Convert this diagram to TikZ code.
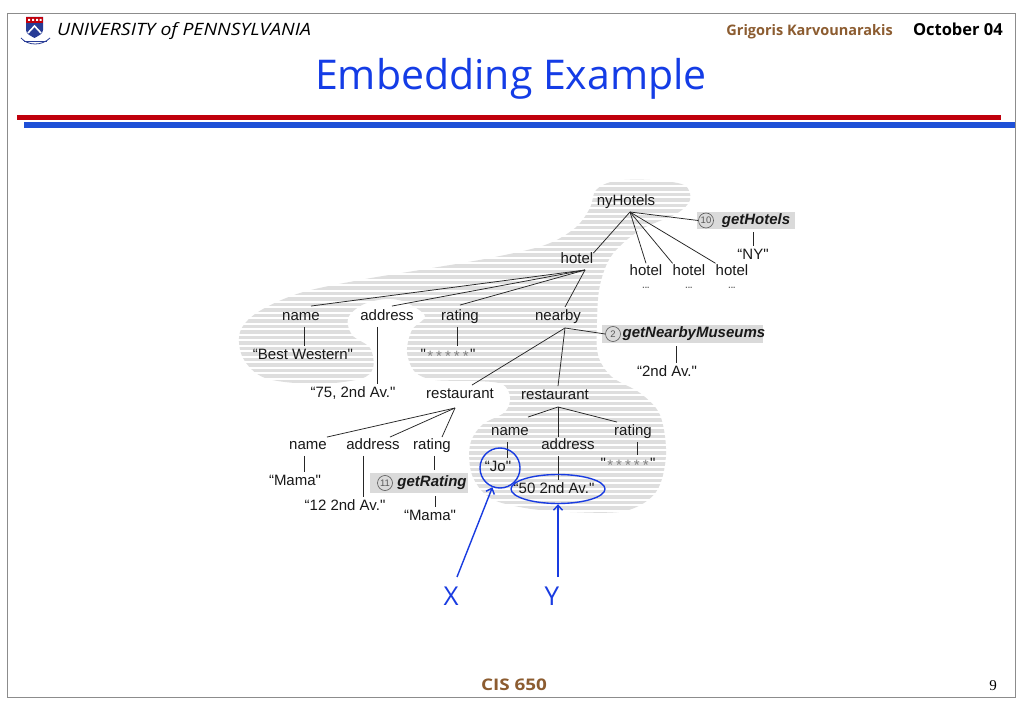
\documentclass[tikz,border=0pt]{standalone}
\usepackage{fontspec}
\setmainfont{Liberation Sans}[Ligatures=TeXOff]
\newfontfamily\comic{Open Sans}
\newfontfamily\serifnum{Liberation Serif}
\usetikzlibrary{arrows.meta,shapes.geometric}
\definecolor{pennblue}{RGB}{25,60,225}
\definecolor{titleblue}{RGB}{20,60,230}
\definecolor{linered}{RGB}{192,0,12}
\definecolor{lineblue}{RGB}{30,80,215}
\definecolor{brownish}{RGB}{140,92,48}
\definecolor{stripegray}{RGB}{222,222,222}
\definecolor{boxgray}{RGB}{218,218,218}
\definecolor{shieldblue}{RGB}{40,60,150}
\newcommand\lblfont{\fontsize{15}{16}\selectfont}
\newcommand\fnfont{\fontsize{15}{16}\selectfont\bfseries\itshape}
\newcommand\lowstar{\raisebox{-1.3pt}{*}}
\newcommand\starrow{"\kern1.5pt{\color{black!50}\lowstar\kern3pt\lowstar\kern3pt\lowstar\kern3pt\lowstar\kern3pt\lowstar}\kern1.5pt"}
\begin{document}
\begin{tikzpicture}[x=1pt,y=-1pt,
  lbl/.style={font=\lblfont, inner sep=0pt, text height=10.5pt, text depth=3pt, text=black!90},
  hlbl/.style={font=\lblfont, inner sep=0pt, text height=10.5pt, text depth=0.5pt, text=black!90},
  fn/.style={font=\fnfont, inner sep=0pt, text height=10.5pt, text depth=3pt, text=black!90},
  dots/.style={font=\fontsize{8.5}{8.5}\selectfont\bfseries, inner sep=0pt, anchor=base, text=black!60},
  edge/.style={draw=black!85, line width=0.75pt},
  vedge/.style={edge, shorten <=3pt, shorten >=3pt},
  num/.style={circle, draw=black!65, line width=0.6pt, minimum size=15pt, inner sep=0pt, font=\fontsize{9.5}{10}\selectfont, text=black!65},
  fnbox/.style={fill=boxgray, inner sep=0pt},
  stripe/.style={draw=stripegray, line width=3.3pt},
  bluemark/.style={draw=pennblue, line width=1.4pt},
  bluearrow/.style={draw=pennblue, line width=1.4pt, -{Straight Barb[length=5pt,width=9pt]}},
  xylabel/.style={font=\comic\fontsize{26}{26}\selectfont, text=pennblue, inner sep=0pt},
  stars/.style={lbl}
]
\useasboundingbox (0,0) rectangle (1023,708);
\fill[white] (0,0) rectangle (1023,708);
% frame
\draw[draw=black!45, line width=1pt] (7.5,14) rectangle (1015.5,697.5);
% logo
\fill[shieldblue] (26,17) -- (43,17) -- (43,30) .. controls (43,34) and (38,36) .. (34.5,38) .. controls (31,36) and (26,34) .. (26,30) -- cycle;
\fill[linered] (26,17) rectangle (43,23.5);
\fill[white] (28,19) rectangle (30,21) (32,19) rectangle (34,21) (36,19) rectangle (38,21) (39.5,19) rectangle (41.5,21);
\draw[white, line width=1.6pt] (28,33) -- (34.5,26) -- (41,33);
\draw[shieldblue, line width=0.8pt] (21,38) .. controls (28,46) and (42,46) .. (50,38);
\draw[shieldblue, line width=0.5pt] (24,41) -- (47,41);
% header
\node[font=\comic\itshape\fontsize{17}{17}\selectfont, anchor=base west, inner sep=0pt] (univ) at (57,36) {\scalebox{1.14}[1]{UNIVERSITY of PENNSYLVANIA}};
\node[font=\comic\bfseries\fontsize{14.5}{14.5}\selectfont, text=brownish, anchor=base east, inner sep=0pt] (author) at (893,36) {Grigoris Karvounarakis};
\node[font=\comic\bfseries\fontsize{16.5}{16.5}\selectfont, anchor=base east, inner sep=0pt] (date) at (1003,36) {October 04};
\node[font=\comic\fontsize{41}{41}\selectfont, text=titleblue, anchor=base, inner sep=0pt] (title) at (511,90) {Embedding Example};
\fill[linered] (17,115.5) rectangle (1001,120);
\fill[lineblue] (24,122.5) rectangle (1015,128);
% footer
\node[font=\comic\bfseries\fontsize{16}{16}\selectfont, text=brownish, anchor=base, inner sep=0pt] (course) at (514,690) {\scalebox{1.18}[1]{CIS 650}};
\node[font=\serifnum\fontsize{15}{15}\selectfont, anchor=base, inner sep=0pt] (pageno) at (993,690) {9};

% striped background
\begin{scope}
\clip plot[smooth cycle, tension=0.55] coordinates {
(596,190) (615,181) (650,180) (684,185) (690,200) (676,214) (640,230) (612,255)
(600,285) (597,320) (598,355) (612,377) (640,393) (660,415) (666,455) (656,492)
(625,511) (570,512) (525,508) (490,498) (472,475) (470,445) (482,425) (505,412)
(510,397) (502,384) (475,381) (435,380) (415,372) (407,352) (412,330) (425,316)
(405,302) (385,299) (362,305) (348,318) (352,335) (370,348) (373,368) (360,379)
(315,384) (265,378) (243,358) (240,332) (258,312) (300,293) (360,280) (420,270)
(490,258) (545,245) (575,228) (590,208)};
\foreach \yy in {178,183.5,...,520} \draw[stripe] (230,\yy) -- (700,\yy);
\end{scope}

% function boxes
\node[fnbox, minimum width=98pt, minimum height=17pt] (ghbox) at (746,220.5) {};
\node[fnbox, minimum width=161pt, minimum height=18pt] (gnmbox) at (682.5,334) {};
\node[fnbox, minimum width=98pt, minimum height=20pt] (grbox) at (419,483) {};
\node[num] (n10) at (706,220.5) {10};
\node[fn] (gh) at (756,220.5) {getHotels};
\node[num] (n2) at (613,334) {2};
\node[fn] (gnm) at (694,334) {getNearbyMuseums};
\node[num] (n11) at (385,483) {11};
\node[fn] (gr) at (432,483) {getRating};

% tree labels
\node[lbl] (ny) at (626,202) {nyHotels};
\node[lbl] (nyarg) at (753,256) {“NY"};
\node[lbl] (hotel) at (577,260) {hotel};
\node[hlbl] (ha) at (646,271) {hotel};
\node[hlbl] (hb) at (689,271) {hotel};
\node[hlbl] (hc) at (732,271) {hotel};
\node[dots] (da) at (646,289) {...};
\node[dots] (db) at (689,289) {...};
\node[dots] (dc) at (732,289) {...};
\node[lbl] (nm) at (301,317) {name};
\node[lbl] (ad) at (387,317) {address};
\node[lbl] (rt) at (460,317) {rating};
\node[lbl] (nb) at (558,317) {nearby};
\node[lbl] (bw) at (303,356) {“Best Western"};
\node[stars] (st1) at (448,356) {\starrow};
\node[lbl] (tsf) at (353,394) {“75, 2nd Av."};
\node[lbl] (snd) at (667,373) {“2nd Av."};
\node[lbl] (r1) at (460,395) {restaurant};
\node[lbl] (r2) at (555,396) {restaurant};
\node[lbl] (nm1) at (308,446) {name};
\node[lbl] (ad1) at (373,446) {address};
\node[lbl] (rt1) at (432,446) {rating};
\node[lbl] (mama1) at (295,482) {“Mama"};
\node[lbl] (tw) at (345,507) {“12 2nd Av."};
\node[lbl] (mama2) at (430,517) {“Mama"};
\node[lbl] (nm2) at (510,432) {name};
\node[lbl] (ad2) at (568,446) {address};
\node[lbl] (rt2) at (633,432) {rating};
\node[lbl] (jo) at (498,468) {“Jo"};
\node[lbl] (fifty) at (554,490) {“50 2nd Av."};
\node[stars] (st2) at (628,465) {\starrow};

% fork points
\coordinate (nyA) at (630,212);
\coordinate (hotA) at (585,270);
\coordinate (nbA) at (565,328);
\coordinate (r1A) at (455,408);
\coordinate (r2A) at (558,407);

% edges
\draw[edge] (nyA) -- (hotel.north east);
\draw[edge] (nyA) -- ([yshift=2pt]ha.north);
\draw[edge] (nyA) -- ([yshift=2pt]hb.north west);
\draw[edge] (nyA) -- ([yshift=2pt]hc.north west);
\draw[edge] (nyA) -- (n10.west);
\draw[vedge] (ghbox.south -| nyarg.north) -- (nyarg.north);

\draw[edge] (hotA) -- ([xshift=10pt,yshift=4pt]nm.north);
\draw[edge] (hotA) -- ([xshift=5pt,yshift=4pt]ad.north);
\draw[edge] (hotA) -- ([yshift=5pt]rt.north);
\draw[edge] (hotA) -- ([xshift=7pt,yshift=3pt]nb.north);
\draw[vedge] ([xshift=3pt]nm.south) -- ([xshift=1pt]bw.north);
\draw[vedge] ([xshift=-10pt]ad.south) -- ([xshift=24pt]tsf.north);
\draw[vedge] ([xshift=-3pt]rt.south) -- ([xshift=9pt]st1.north);

\draw[edge] (nbA) -- (n2.west);
\draw[vedge] ([xshift=-6.5pt]gnmbox.south) -- ([xshift=9pt]snd.north);
\draw[edge] (nbA) -- ([xshift=12pt,yshift=3pt]r1.north);
\draw[edge] (nbA) -- ([xshift=3pt,yshift=3pt]r2.north);

\draw[edge] (r1A) -- ([xshift=19pt,yshift=2pt]nm1.north);
\draw[edge] (r1A) -- ([xshift=17pt,yshift=2pt]ad1.north);
\draw[edge] (r1A) -- ([xshift=10pt,yshift=2pt]rt1.north);
\draw[vedge] ([xshift=-4pt]nm1.south) -- ([xshift=9pt]mama1.north);
\draw[vedge] ([xshift=-10pt]ad1.south) -- ([xshift=18pt]tw.north);
\draw[vedge] ([xshift=2pt]rt1.south) -- ([xshift=15pt]grbox.north);
\draw[vedge] ([xshift=16pt]grbox.south) -- ([xshift=5pt]mama2.north);

\draw[edge] (r2A) -- ([xshift=18pt,yshift=8pt]nm2.north);
\draw[edge] (r2A) -- ([xshift=-10pt,yshift=2pt]ad2.north);
\draw[edge] (r2A) -- ([xshift=-16pt,yshift=3pt]rt2.north);
\draw[vedge] ([xshift=-3pt]nm2.south) -- ([xshift=9pt]jo.north);
\draw[vedge] ([xshift=-10pt]ad2.south) -- ([xshift=4pt]fifty.north);
\draw[vedge] ([xshift=4pt]rt2.south) -- ([xshift=9pt]st2.north);

% blue marks
\node[bluemark, circle, minimum size=40pt, inner sep=0pt] (jocirc) at (500,468) {};
\node[bluemark, ellipse, minimum width=94pt, minimum height=29pt, inner sep=0pt] (valell) at (558,489) {};
\node[xylabel] (X) at (451,596) {X};
\node[xylabel] (Y) at (552,596) {Y};
\coordinate (xtail) at (457,577);
\coordinate (ytail) at (558,577);
\draw[bluearrow] (xtail) -- (jocirc);
\draw[bluearrow] (ytail) -- (valell.south);
\end{tikzpicture}
\end{document}
